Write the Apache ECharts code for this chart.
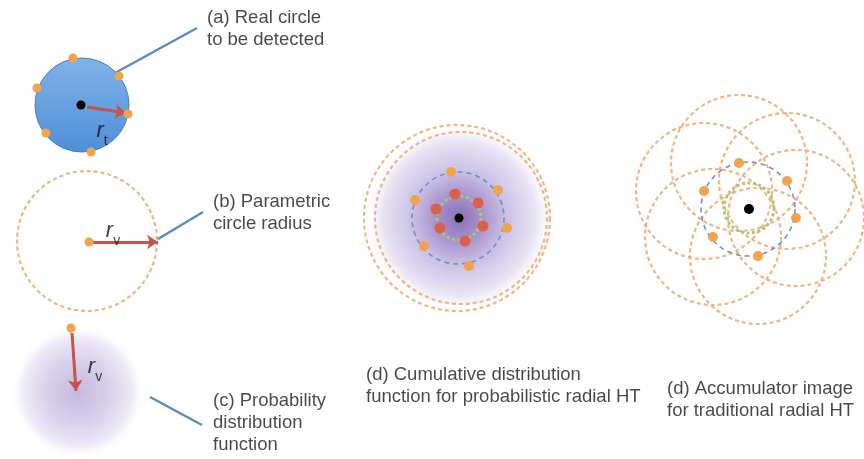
<!DOCTYPE html>
<html>
<head>
<meta charset="utf-8">
<script src="https://cdn.jsdelivr.net/npm/echarts@6/dist/echarts.min.js"></script>
<style>
  html, body {margin: 0; padding: 0; background: #fff;}
  #main {width: 864px; height: 459px;}
</style>
</head>
<body>
<div id="main"></div>
<script>
// diagram drawn on a hidden 1:1 value grid (x 0..864, y 0..459 downward)

// (a) real circle: [cx, cy, r]
var realCircle = [[82, 105, 47]];
var realPoints = [[73, 58], [37, 88], [119, 76], [128, 114], [46, 133], [91, 152]];
var realCenter = [[81, 105]];

// (b) parametric circle
var paramCircle = [[87, 241, 70]];
var paramPoint = [[89, 242]];

// (c) probability blob
var pdfBlob = [[78, 392, 68]];
var pdfPoint = [[71, 328]];

// (d) cumulative: blob, outer envelope, blue ring, points
var cdfBlob = [[459, 218, 96]];
var cdfOuter = [[457, 218, 93], [461, 218, 86]];
var cdfRing = [[458, 218, 46]];
var cdfInner = [[459, 218, 22]];
var cdfPoints = [[451, 172], [498, 190], [415, 200], [507, 228], [424, 246], [469, 266]];
var cdfRed = [[455, 194], [478, 203], [436, 209], [483, 226], [440, 228], [465, 241]];
var cdfCenter = [[459, 218]];

// (d) accumulator: one circle of radius rv per edge point
var accPoints = [[739, 163], [787, 181], [704, 191], [796, 218], [713, 237], [758, 256]];
var accRv = 68;
var accRing = [[748, 209, 47]];
var accInner = [[749, 208, 25]];
var accCenter = [[749, 209]];

var redArrows = [
  [[87, 107], [126, 113]],
  [[92, 242], [158, 242]],
  [[72, 333], [76, 391]]
];
var leaders = [
  [[115, 73], [197, 28]],
  [[158, 239], [203, 212]],
  [[150, 397], [202, 425]]
];
var captions = [
  [207, 29, '(a) Real circle\nto be detected'],
  [213, 213, '(b) Parametric\ncircle radius'],
  [213, 423, '(c) Probability\ndistribution\nfunction'],
  [366, 386, '(d) Cumulative distribution\nfunction for probabilistic radial HT'],
  [667, 400, '(d) Accumulator image\nfor traditional radial HT']
];
var radiusLabels = [
  [102, 130, 't'],
  [113, 230, 'v'],
  [95, 366, 'v']
];

var accCircles = accPoints.map(function (p) { return [p[0], p[1], accRv]; });

function circleSeries(data, style, z) {
  return {
    type: 'custom',
    coordinateSystem: 'cartesian2d',
    z: z,
    silent: true,
    data: data,
    renderItem: function (params, api) {
      var c = api.coord([api.value(0), api.value(1)]);
      var s = api.size([api.value(2), api.value(2)]);
      return {
        type: 'circle',
        shape: {cx: c[0], cy: c[1], r: s[0]},
        style: typeof style === 'function' ? style() : style
      };
    }
  };
}

function dots(data, color, size, z) {
  return {
    type: 'scatter',
    z: z,
    silent: true,
    symbolSize: size,
    itemStyle: {color: color, opacity: 1},
    data: data
  };
}

var orangeDash = {fill: 'none', stroke: 'rgba(238,168,108,0.85)', lineWidth: 2.2, lineDash: [4, 3]};
var blueDash = {fill: 'none', stroke: '#6b93cc', lineWidth: 1.6, lineDash: [5, 4]};
var greenDash = {fill: 'none', stroke: '#a9c77c', lineWidth: 3, lineDash: [3, 2.5]};

var chart = echarts.init(document.getElementById('main'));
chart.setOption({
  animation: false,
  backgroundColor: '#fff',
  grid: {left: 0, right: 0, top: 0, bottom: 0},
  xAxis: {type: 'value', min: 0, max: 864, show: false},
  yAxis: {type: 'value', min: 0, max: 459, inverse: true, show: false},
  series: [
    circleSeries(pdfBlob, function () {
      return {fill: new echarts.graphic.RadialGradient(0.5, 0.5, 0.5, [
        {offset: 0, color: 'rgba(198,185,225,1)'},
        {offset: 0.45, color: 'rgba(216,207,235,1)'},
        {offset: 0.8, color: 'rgba(238,234,247,1)'},
        {offset: 1, color: 'rgba(255,255,255,0)'}
      ])};
    }, 1),
    circleSeries(cdfBlob, function () {
      return {fill: new echarts.graphic.RadialGradient(0.5, 0.5, 0.5, [
        {offset: 0, color: 'rgba(138,112,184,1)'},
        {offset: 0.25, color: 'rgba(168,148,204,1)'},
        {offset: 0.5, color: 'rgba(204,194,230,1)'},
        {offset: 0.8, color: 'rgba(232,228,244,1)'},
        {offset: 1, color: 'rgba(255,255,255,0)'}
      ])};
    }, 1),
    circleSeries(realCircle, function () {
      return {
        fill: new echarts.graphic.LinearGradient(0, 0, 0, 1, [
          {offset: 0, color: '#7fb3ea'},
          {offset: 1, color: '#4f8fd6'}
        ]),
        stroke: '#4a7fc0',
        lineWidth: 1
      };
    }, 2),
    circleSeries(paramCircle, orangeDash, 2),
    circleSeries(cdfOuter, orangeDash, 2),
    circleSeries(accCircles, orangeDash, 2),
    circleSeries(cdfRing, blueDash, 3),
    circleSeries(accRing, blueDash, 3),
    circleSeries(cdfInner, greenDash, 3),
    circleSeries(accInner, greenDash, 3),
    {
      type: 'lines',
      coordinateSystem: 'cartesian2d',
      z: 4,
      silent: true,
      symbol: ['none', 'none'],
      lineStyle: {color: '#5b8cc4', width: 2.5, opacity: 1},
      data: leaders.map(function (l) { return {coords: l}; })
    },
    {
      type: 'lines',
      coordinateSystem: 'cartesian2d',
      z: 5,
      silent: true,
      symbol: ['none', 'arrow'],
      symbolSize: 11,
      lineStyle: {color: '#c9534a', width: 3, opacity: 1},
      data: redArrows.map(function (l) { return {coords: l}; })
    },
    dots(realPoints, '#f2a34c', 9, 6),
    dots(paramPoint, '#f2a34c', 9, 6),
    dots(pdfPoint, '#f2a34c', 9, 6),
    dots(cdfPoints, '#f2a34c', 10, 6),
    dots(accPoints, '#f2a34c', 10, 6),
    dots(cdfRed, '#dc5f4c', 11, 6),
    dots(realCenter, '#000', 9, 7),
    dots(cdfCenter, '#000', 9, 7),
    dots(accCenter, '#000', 10, 7),
    {
      type: 'scatter',
      z: 8,
      silent: true,
      symbolSize: 0,
      data: captions,
      label: {
        show: true,
        position: 'right',
        distance: 0,
        formatter: function (p) { return p.value[2]; },
        fontFamily: 'Liberation Sans, Arial, sans-serif',
        fontSize: 18.5,
        lineHeight: 22,
        color: '#1a1a1a'
      }
    },
    {
      type: 'scatter',
      z: 8,
      silent: true,
      symbolSize: 0,
      data: radiusLabels,
      label: {
        show: true,
        position: 'inside',
        formatter: function (p) { return '{r|r}{s|' + p.value[2] + '}'; },
        rich: {
          r: {fontFamily: 'Liberation Sans, Arial, sans-serif', fontStyle: 'italic', fontSize: 22, color: '#111', verticalAlign: 'bottom', lineHeight: 24},
          s: {fontFamily: 'Liberation Sans, Arial, sans-serif', fontSize: 14, color: '#111', verticalAlign: 'bottom', lineHeight: 14, padding: [0, 0, -6, 0]}
        }
      }
    }
  ]
});
</script>
</body>
</html>
